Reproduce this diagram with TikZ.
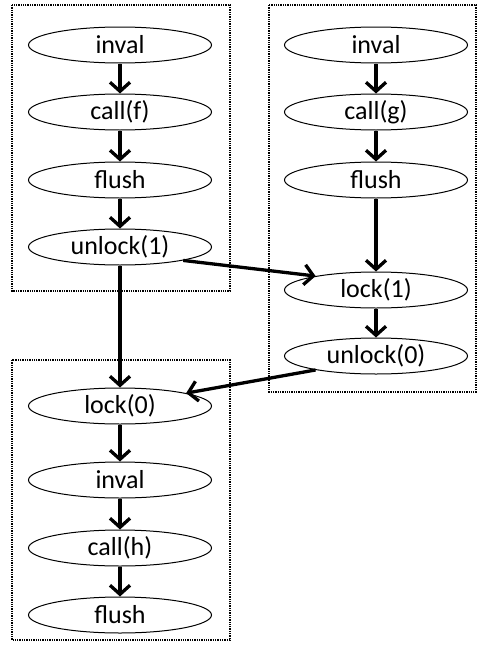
\documentclass[tikz,border=0pt]{standalone}
\usepackage{fontspec}
\setmainfont{Carlito}
\usetikzlibrary{shapes.geometric,arrows.meta}

\begin{document}
\begin{tikzpicture}[x=1pt, y=-1pt,
    ev/.style={ellipse, draw, line width=1pt, minimum width=183pt, minimum height=36pt, inner sep=0pt, font=\fontsize{26}{28}\selectfont},
    arr/.style={line width=3.3pt, -{Straight Barb[length=9pt,width=20pt]}},
    grp/.style={densely dotted, line width=1.3pt}]

  \useasboundingbox (0,0) rectangle (477,645);

  % thread boxes
  \draw[grp] (12,5) rectangle (230,291);
  \draw[grp] (269,5) rectangle (476,392);
  \draw[grp] (12,360) rectangle (230,640);

  % left thread
  \foreach \name/\y/\txt in {f1/45/inval, f2/112/{call(f)}, f3/180/flush, f4/247/{unlock(1)}}
    \node[ev] (\name) at (120,\y) {\txt};

  % right thread
  \foreach \name/\y/\txt in {g1/45/inval, g2/112/{call(g)}, g3/180/flush, g4/290/{lock(1)}, g5/356/{unlock(0)}}
    \node[ev] (\name) at (376,\y) {\txt};

  % bottom thread
  \foreach \name/\y/\txt in {h1/406/{lock(0)}, h2/480/inval, h3/548/{call(h)}, h4/615/flush}
    \node[ev] (\name) at (120,\y) {\txt};

  \foreach \a/\b in {f1/f2, f2/f3, f3/f4, g1/g2, g2/g3, g3/g4, g4/g5, h1/h2, h2/h3, h3/h4}
    \draw[arr] (\a) -- (\b);

  % synchronisation
  \draw[arr] (f4.-12) -- (g4.167);
  \draw[arr] (g5.-167) -- (h1.11);
  \draw[arr] (f4) -- (h1);

\end{tikzpicture}
\end{document}
